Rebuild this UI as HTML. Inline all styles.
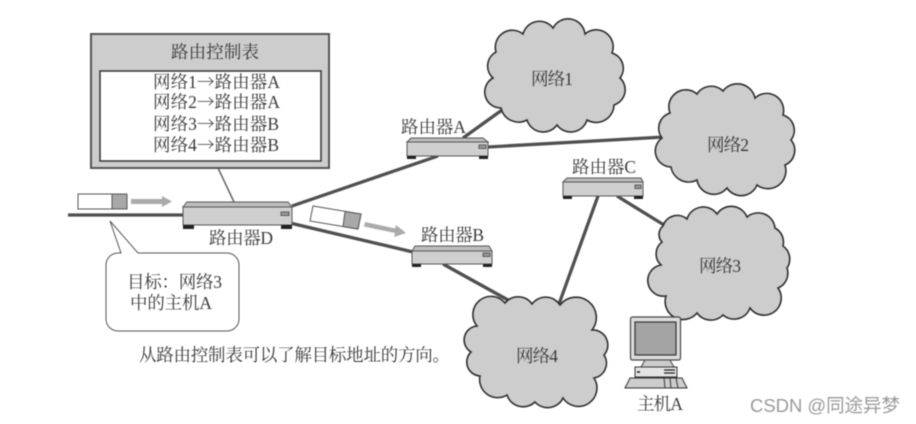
<!DOCTYPE html>
<html>
<head>
<meta charset="utf-8">
<style>
html,body{margin:0;padding:0;background:#fff;width:916px;height:424px;overflow:hidden}
svg{display:block;filter:blur(0.4px)}
text{font-family:"Liberation Serif","Noto Serif CJK SC",serif;fill:#3a3a3a;font-size:17.5px}
.ar{font-family:"Noto Serif CJK SC",serif}
.c{fill:#cdcdcd;stroke:#2e2e2e;stroke-width:1.6}
.l{stroke:#4f4f4f;stroke-width:3.3;fill:none}
.b{fill:#cfcfcf;stroke:#555;stroke-width:1}
.t{fill:#bdbdbd;stroke:#555;stroke-width:1}
.f{fill:#222}
.p{fill:#999;stroke:#444;stroke-width:.8}
</style>
</head>
<body>
<svg width="916" height="424" viewBox="0 0 916 424" xmlns="http://www.w3.org/2000/svg">
<!-- connectors -->
<path class="l" d="M68 215H184"/>
<path class="l" d="M292 206L438 156"/>
<path class="l" d="M463 138L502 110"/>
<path class="l" d="M488 147L664 137"/>
<path class="l" d="M290 223L413 252"/>
<path class="l" d="M443 264L508 300"/>
<path class="l" d="M598 196L559 304"/>
<path class="l" d="M617 196L664 225"/>
<path class="l" d="M684 304L672 318"/>
<path d="M218 168L234 202" stroke="#666" stroke-width="1.5" fill="none"/>

<!-- table -->
<rect x="91" y="34" width="238" height="134" fill="#cdcdcd" stroke="#555" stroke-width="2"/>
<rect x="100" y="71" width="221" height="90" fill="#fff" stroke="#333" stroke-width="1.5"/>
<text x="171" y="58" textLength="88">路由控制表</text>
<text x="153" y="88" textLength="127">网络1<tspan class="ar">→</tspan>路由器A</text>
<text x="153" y="108" textLength="127">网络2<tspan class="ar">→</tspan>路由器A</text>
<text x="153" y="130" textLength="126">网络3<tspan class="ar">→</tspan>路由器B</text>
<text x="153" y="151" textLength="126">网络4<tspan class="ar">→</tspan>路由器B</text>

<!-- clouds -->
<path class="c" d="M496 52A17 17 0 0 1 523 34A17 17 0 0 1 553 28A17 17 0 0 1 585 34A17 17 0 0 1 612 53A16 16 0 0 1 620 78A16 16 0 0 1 614 105A18 18 0 0 1 587 120A17 17 0 0 1 557 125A17 17 0 0 1 527 120A18 18 0 0 1 501 108A16 16 0 0 1 493 78A16 16 0 0 1 496 52Z"/>
<path class="c" d="M670 113A17 17 0 0 1 697 94A17 17 0 0 1 723 91A18 18 0 0 1 755 98A17 17 0 0 1 783 115A16 16 0 0 1 791 140A16 16 0 0 1 785 165A18 18 0 0 1 757 185A17 17 0 0 1 727 188A17 17 0 0 1 697 180A18 18 0 0 1 671 167A16 16 0 0 1 662 138A16 16 0 0 1 670 113Z"/>
<path class="c" d="M663 226A15 15 0 0 1 687 219A17 17 0 0 1 717 214A17 17 0 0 1 747 217A17 17 0 0 1 775 228A16 16 0 0 1 783 246A16 16 0 0 1 787 268A16 16 0 0 1 778 288A17 17 0 0 1 750 308A17 17 0 0 1 723 315A17 17 0 0 1 697 313A18 18 0 0 1 666 296A15 15 0 0 1 661 265A15 15 0 0 1 662 242A11 11 0 0 1 663 226Z"/>
<path class="c" d="M505 303A17 17 0 0 1 532 304A17 17 0 0 1 560 305A19 19 0 0 1 592 330A15 15 0 0 1 604 355A15 15 0 0 1 594 378A18 18 0 0 1 563 398A17 17 0 0 1 535 402A17 17 0 0 1 507 395A18 18 0 0 1 480 376A14 14 0 0 1 471 352A14 14 0 0 1 477 326A18 18 0 0 1 505 303Z"/>
<text x="531" y="85" textLength="42">网络1</text>
<text x="707" y="151" textLength="42">网络2</text>
<text x="699" y="272" textLength="42">网络3</text>
<text x="516" y="362" textLength="42">网络4</text>

<!-- router D -->
<path class="t" d="M187 202H288L292 207H183Z"/>
<rect class="b" x="183" y="207" width="109" height="18"/>
<rect class="f" x="183" y="225" width="11" height="4"/>
<rect class="f" x="281" y="225" width="11" height="4"/>
<rect class="p" x="281" y="212" width="8" height="3.5"/>
<!-- router A -->
<path class="t" d="M411 138H483L488 142H407Z"/>
<rect class="b" x="407" y="142" width="81" height="14"/>
<rect class="f" x="407" y="156" width="9" height="3"/>
<rect class="f" x="479" y="156" width="9" height="3"/>
<rect class="p" x="479" y="145" width="7" height="3.5"/>
<!-- router B -->
<path class="t" d="M415 246H489L492 251H412Z"/>
<rect class="b" x="412" y="251" width="80" height="13"/>
<rect class="f" x="412" y="264" width="9" height="3"/>
<rect class="f" x="483" y="264" width="9" height="3"/>
<rect class="p" x="483" y="253" width="7" height="3.5"/>
<!-- router C -->
<path class="t" d="M567 178H641L643 182H563Z"/>
<rect class="b" x="563" y="182" width="80" height="14"/>
<rect class="f" x="563" y="196" width="9" height="3"/>
<rect class="f" x="634" y="196" width="9" height="3"/>
<rect class="p" x="635" y="185" width="6" height="3.5"/>

<text x="401" y="133" textLength="65">路由器A</text>
<text x="421" y="241" textLength="63">路由器B</text>
<text x="572" y="173" textLength="64">路由器C</text>
<text x="209" y="244" textLength="64">路由器D</text>

<!-- packet 1 -->
<rect x="78" y="194" width="49" height="15" fill="#fff" stroke="#555" stroke-width="1"/>
<rect x="112" y="194" width="15" height="15" fill="#a8a8a8" stroke="#555" stroke-width="1"/>
<path d="M131 199H162V196L172 201.5L162 207V204H131Z" fill="#aaa"/>
<!-- packet 2 -->
<path d="M313 206L361 214L358 229L310 221Z" fill="#fff" stroke="#555" stroke-width="1"/>
<path d="M345 211.5L361 214L358 229L343 226.5Z" fill="#a8a8a8" stroke="#555" stroke-width="1"/>
<path d="M365 222L395 228.5L396 225L406 233L394 237L395 233L364 226.5Z" fill="#aaa"/>

<!-- callout -->
<path d="M110 221L138 253H227A12 12 0 0 1 239 265V319A12 12 0 0 1 227 331H118A12 12 0 0 1 106 319V265A12 12 0 0 1 118 253H121Z" fill="#fff" stroke="#555" stroke-width="1"/>
<text x="127" y="288" textLength="95">目标：网络3</text>
<text x="130" y="309" textLength="82">中的主机A</text>

<text x="139" y="361" textLength="311">从路由控制表可以了解目标地址的方向。</text>

<!-- computer -->
<rect x="630.5" y="317" width="50" height="43" rx="2" fill="#dcdcdc" stroke="#444" stroke-width="1.2"/>
<rect x="635" y="322" width="41" height="33" fill="#a4a4a4" stroke="#333" stroke-width="1.2"/>
<path d="M641 367L645 360H670L674 367Z" fill="#ccc" stroke="#444" stroke-width="1"/>
<rect x="635" y="367" width="42" height="10" fill="#e4e4e4" stroke="#333" stroke-width="1"/>
<path d="M664 370H675M664 373H675" stroke="#222" stroke-width="1.2"/>
<rect x="637" y="371" width="3" height="2" fill="#444"/>
<path d="M630 378H682L687 388H625Z" fill="#ccc" stroke="#333" stroke-width="1"/>
<path d="M664 378L665 388M670 378L671 388M676 378L678 388" stroke="#333" stroke-width="1"/>
<text x="637" y="410" textLength="46">主机A</text>

<text x="750" y="412" textLength="150" style="font-family:'Liberation Sans','Noto Sans CJK SC',sans-serif;font-size:18.5px;fill:#9a9a9a">CSDN @同途异梦</text>
</svg>
</body>
</html>
